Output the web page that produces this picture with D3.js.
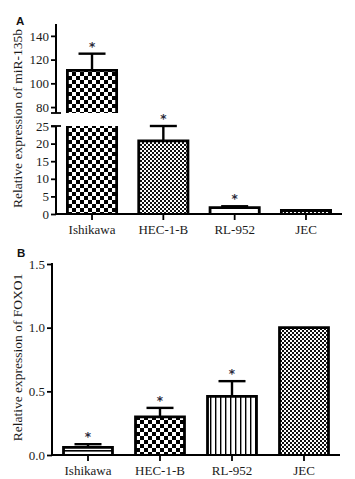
<!DOCTYPE html>
<html><head><meta charset="utf-8">
<script src="https://cdn.jsdelivr.net/npm/d3@7"></script>
<style>html,body{margin:0;padding:0;background:#fff;}svg{display:block;}</style>
</head><body>
<script>
// ---- data ----
const cells = ["Ishikawa", "HEC-1-B", "RL-952", "JEC"];
const mirMean = [111, 20.8, 1.8, 1.0];
const mirErr = [14, 4.2, 0.4, 0];
const mirSig = [true, true, true, false];
const mirUpperTicks = [80, 100, 120, 140];
const mirLowerTicks = [0, 5, 10, 15, 20, 25];
const foxoMean = [0.06, 0.30, 0.46, 1.0];
const foxoErr = [0.025, 0.07, 0.12, 0];
const foxoSig = [true, true, true, false];
const foxoTicks = [0, 0.5, 1.0, 1.5];
const mirFills = ["checkBig", "checkFine", "white", "checkFine"];
const foxoFills = ["hlines", "checkBig", "vlines", "checkFine"];

const W = 355, H = 479;
const svg = d3.select("body").append("svg").attr("width", W).attr("height", H);
svg.append("rect").attr("width", W).attr("height", H).attr("fill", "#fff");
const defs = svg.append("defs");

function pat(id, w, h, draw) {
  const p = defs.append("pattern").attr("id", id).attr("patternUnits", "userSpaceOnUse")
    .attr("width", w).attr("height", h);
  p.append("rect").attr("width", w).attr("height", h).attr("fill", "#fff");
  draw(p);
}
pat("checkBig", 8, 8, p => {
  p.append("rect").attr("x", 0).attr("y", 0).attr("width", 4).attr("height", 4).attr("fill", "#000");
  p.append("rect").attr("x", 4).attr("y", 4).attr("width", 4).attr("height", 4).attr("fill", "#000");
});
pat("checkFine", 4, 4, p => {
  p.append("rect").attr("x", 0).attr("y", 0).attr("width", 2).attr("height", 2).attr("fill", "#111");
  p.append("rect").attr("x", 2).attr("y", 2).attr("width", 2).attr("height", 2).attr("fill", "#111");
});
pat("hlines", 8, 8, p => {
  p.append("rect").attr("x", 0).attr("y", 2).attr("width", 8).attr("height", 1.6).attr("fill", "#000");
});
pat("vlines", 5, 5, p => {
  p.append("rect").attr("x", 0).attr("y", 0).attr("width", 1.4).attr("height", 5).attr("fill", "#000");
});
const fillOf = k => k === "white" ? "#fff" : `url(#${k})`;

const serif = "'Liberation Serif','Times New Roman',serif";
const textCol = "#1a1a1a";

function styleAxis(g) {
  g.attr("font-family", serif);
  g.selectAll("path.domain").remove();
  g.selectAll(".tick line").attr("stroke", "#000").attr("stroke-width", 1.8);
  g.selectAll(".tick text").attr("font-family", serif).attr("font-size", 13).attr("fill", textCol);
}

function drawBars(g, x, y, means, fills) {
  const d0 = y.domain()[0], d1 = y.domain()[1];
  cells.forEach((c, i) => {
    const v = means[i];
    if (v <= d0) return;
    const left = x(c), right = x(c) + x.bandwidth();
    const capped = v > d1;
    const top = capped ? y(d1) : y(v);
    const bot = y(d0);
    g.append("rect").attr("x", left).attr("y", top).attr("width", right - left).attr("height", bot - top)
      .attr("fill", fillOf(fills[i]));
    const dPath = capped ? `M${left},${top}V${bot}M${right},${top}V${bot}`
                         : `M${left},${bot}V${top}H${right}V${bot}`;
    g.append("path").attr("d", dPath).attr("fill", "none").attr("stroke", "#000")
      .attr("stroke-width", 2.8).attr("stroke-linejoin", "miter");
  });
}

function drawErr(g, x, y, means, errs, sig) {
  const d0 = y.domain()[0], d1 = y.domain()[1];
  cells.forEach((c, i) => {
    const v = means[i], e = v + errs[i];
    if (v < d0 || v > d1) return;
    const cx = x(c) + x.bandwidth() / 2;
    if (errs[i] > 0) {
      g.append("line").attr("x1", cx).attr("x2", cx).attr("y1", y(v)).attr("y2", y(e))
        .attr("stroke", "#000").attr("stroke-width", 2.4);
      g.append("line").attr("x1", cx - 13.5).attr("x2", cx + 13.5).attr("y1", y(e)).attr("y2", y(e))
        .attr("stroke", "#000").attr("stroke-width", 2.4);
    }
    if (sig[i]) {
      g.append("text").attr("x", cx).attr("y", y(e) - 3).attr("text-anchor", "middle")
        .attr("font-family", "'DejaVu Sans',sans-serif").attr("font-size", 12).attr("font-weight", "bold")
        .attr("fill", "#2a2a3a").text("*");
    }
  });
}

// ---------- Panel A ----------
{
  const xA = d3.scaleBand().domain(cells).range([56, 342]).paddingInner(0.31).paddingOuter(0.16);
  const yUp = d3.scaleLinear().domain([75, 150]).range([113, 24]);
  const yLo = d3.scaleLinear().domain([0, 25]).range([214, 126]);
  const g = svg.append("g");

  drawBars(g, xA, yUp, mirMean, mirFills);
  drawBars(g, xA, yLo, mirMean, mirFills);
  drawErr(g, xA, yUp, mirMean, mirErr, mirSig);
  drawErr(g, xA, yLo, mirMean, mirErr, mirSig);

  const axU = g.append("g").attr("transform", "translate(56,0)")
    .call(d3.axisLeft(yUp).tickValues(mirUpperTicks).tickSize(5).tickPadding(2));
  styleAxis(axU);
  g.append("line").attr("x1", 56).attr("x2", 56).attr("y1", 24).attr("y2", 113).attr("stroke", "#000").attr("stroke-width", 2);
  g.append("line").attr("x1", 51).attr("x2", 61).attr("y1", 113).attr("y2", 113).attr("stroke", "#000").attr("stroke-width", 1.8);
  const axL = g.append("g").attr("transform", "translate(56,0)")
    .call(d3.axisLeft(yLo).tickValues(mirLowerTicks).tickSize(5).tickPadding(2));
  styleAxis(axL);
  g.append("line").attr("x1", 56).attr("x2", 56).attr("y1", 126).attr("y2", 214).attr("stroke", "#000").attr("stroke-width", 2);
  g.append("line").attr("x1", 51).attr("x2", 61).attr("y1", 126).attr("y2", 126).attr("stroke", "#000").attr("stroke-width", 1.8);

  const axX = g.append("g").attr("transform", "translate(0,214)")
    .call(d3.axisBottom(xA).tickSize(6).tickPadding(5));
  styleAxis(axX);
  g.append("line").attr("x1", 55).attr("x2", 342).attr("y1", 214).attr("y2", 214).attr("stroke", "#000").attr("stroke-width", 2);

  g.append("text").attr("transform", "translate(22,118.5) rotate(-90)").attr("text-anchor", "middle")
    .attr("font-family", serif).attr("font-size", 13.5).attr("fill", textCol)
    .text("Relative expression of miR-135b");
  g.append("text").attr("x", 16).attr("y", 25).attr("font-family", "'Liberation Sans',Arial,sans-serif")
    .attr("font-weight", "bold").attr("font-size", 11.5).attr("fill", "#111").text("A");
}

// ---------- Panel B ----------
{
  const xB = d3.scaleBand().domain(cells).range([52, 340]).paddingInner(0.32).paddingOuter(0.16);
  const yB = d3.scaleLinear().domain([0, 1.5]).range([455, 264]);
  const g = svg.append("g");

  drawBars(g, xB, yB, foxoMean, foxoFills);
  drawErr(g, xB, yB, foxoMean, foxoErr, foxoSig);

  const axY = g.append("g").attr("transform", "translate(52,0)")
    .call(d3.axisLeft(yB).tickValues(foxoTicks).tickFormat(d3.format(".1f")).tickSize(5).tickPadding(2));
  styleAxis(axY);
  g.append("line").attr("x1", 52).attr("x2", 52).attr("y1", 263).attr("y2", 455).attr("stroke", "#000").attr("stroke-width", 2);

  const axX = g.append("g").attr("transform", "translate(0,455)")
    .call(d3.axisBottom(xB).tickSize(6).tickPadding(5));
  styleAxis(axX);
  g.append("line").attr("x1", 51).attr("x2", 340).attr("y1", 455).attr("y2", 455).attr("stroke", "#000").attr("stroke-width", 2);

  g.append("text").attr("transform", "translate(22,357.5) rotate(-90)").attr("text-anchor", "middle")
    .attr("font-family", serif).attr("font-size", 13.5).attr("fill", textCol)
    .text("Relative expression of FOXO1");
  g.append("text").attr("x", 17).attr("y", 257).attr("font-family", "'Liberation Sans',Arial,sans-serif")
    .attr("font-weight", "bold").attr("font-size", 11.5).attr("fill", "#111").text("B");
}
</script>
</body></html>
